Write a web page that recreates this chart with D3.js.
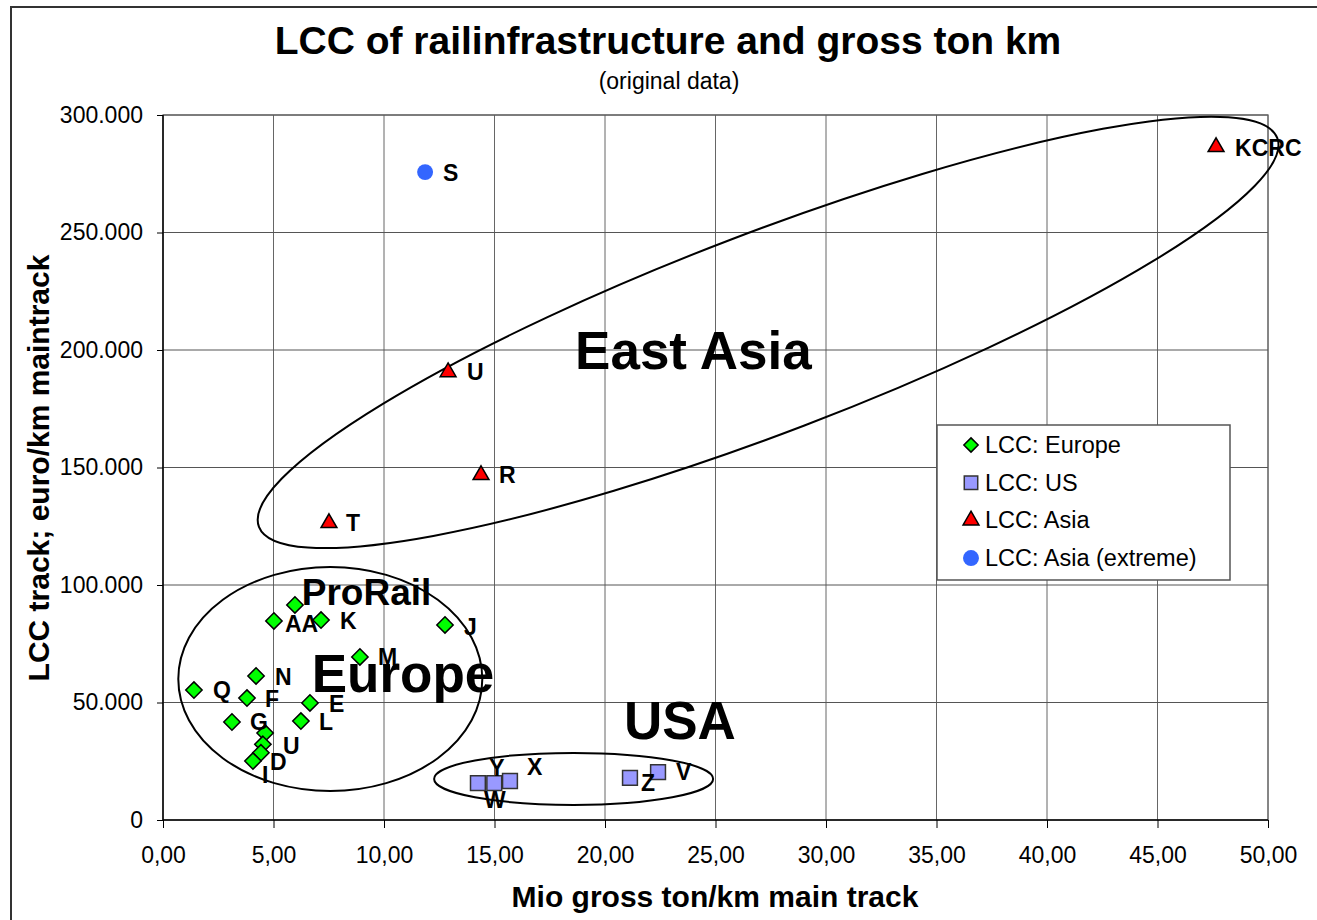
<!DOCTYPE html>
<html>
<head>
<meta charset="utf-8">
<script src="https://cdn.jsdelivr.net/npm/d3@7"></script>
<style>
  html, body { margin: 0; padding: 0; background: #fff; }
  svg text { font-family: "Liberation Sans", Arial, sans-serif; }
</style>
</head>
<body>
<svg id="chart" width="1317" height="920"></svg>
<script>
// ---- data ----
const europeX = [1.40, 4.21, 3.80, 3.12, 5.02, 5.97, 7.15, 12.76, 8.91, 6.65, 6.24, 4.62, 4.52, 4.43, 4.07];
const europeY = [55300, 61300, 51900, 41700, 84700, 91500, 85100, 83000, 69400, 49800, 42100, 37000, 32200, 28600, 25100];
const europeLabels = ["Q", "N", "F", "G", "AA", "", "K", "J", "M", "E", "L", "", "U", "D", "I"];

const usX = [14.25, 14.99, 15.70, 21.13, 22.40];
const usY = [15700, 15700, 16600, 17900, 20400];
const usLabels = ["W", "Y", "X", "Z", "V"];

const asiaX = [12.90, 14.39, 7.51, 47.65];
const asiaY = [190600, 146800, 126400, 286400];
const asiaLabels = ["U", "R", "T", "KCRC"];

const asiaExtX = [11.86];
const asiaExtY = [275700];
const asiaExtLabels = ["S"];

const xTicks = [0, 5, 10, 15, 20, 25, 30, 35, 40, 45, 50];
const yTicks = [0, 50000, 100000, 150000, 200000, 250000, 300000];

const seriesNames = ["LCC: Europe", "LCC: US", "LCC: Asia", "LCC: Asia (extreme)"];
const groupNames = ["East Asia", "Europe", "USA", "ProRail"];

// label offsets (pixels) per point, [dx, dy]
const europeOff = [[19,0],[19,1],[18,1],[18,0],[11,3],[0,0],[19,1],[19,2],[18,0],[19,1],[18,1],[0,0],[20,2],[9,9],[9,14]];
const usOff = [[6,17],[-5,-15],[17,-14],[11,5],[18,0]];
const asiaOff = [[19,0],[18,0],[17,0],[19,1]];
const asiaExtOff = [[18,1]];

// ---- setup ----
const svg = d3.select("#chart");
const W = 1317, H = 920;
const m = {left: 163, right: 1268, top: 115, bottom: 820};

const x = d3.scaleLinear().domain([0, 50]).range([m.left, m.right]);
const y = d3.scaleLinear().domain([0, 300000]).range([m.bottom, m.top]);

const loc = d3.formatLocale({decimal: ",", thousands: ".", grouping: [3], currency: ["", "€"]});
const fx = loc.format(".2f");
const fy = v => v === 0 ? "0" : loc.format(",.0f")(v);

// outer border
svg.append("rect").attr("x", 11).attr("y", 7).attr("width", W + 20).attr("height", H + 20)
  .attr("fill", "#fff").attr("stroke", "#333").attr("stroke-width", 2);

// plot area border
svg.append("rect").attr("x", m.left).attr("y", m.top).attr("width", m.right - m.left).attr("height", m.bottom - m.top)
  .attr("fill", "#fff").attr("stroke", "#888").attr("stroke-width", 1.5);

// gridlines
svg.append("g").selectAll("line").data(xTicks.slice(1)).join("line")
  .attr("x1", d => x(d)).attr("x2", d => x(d)).attr("y1", m.top).attr("y2", m.bottom)
  .attr("stroke", "#666").attr("stroke-width", 1);
svg.append("g").selectAll("line").data(yTicks.slice(1)).join("line")
  .attr("x1", m.left).attr("x2", m.right).attr("y1", d => y(d)).attr("y2", d => y(d))
  .attr("stroke", "#555").attr("stroke-width", 1);

// axes
const xAxis = d3.axisBottom(x).tickValues(xTicks).tickFormat(fx).tickSize(8).tickPadding(19);
const gx = svg.append("g").attr("transform", `translate(0,${m.bottom})`).call(xAxis);
gx.select(".domain").attr("stroke", "#000").attr("stroke-width", 1.5).attr("d", `M${m.left},0H${m.right}`);
gx.selectAll(".tick line").attr("stroke", "#000");
gx.selectAll(".tick text").attr("font-size", 23).attr("fill", "#000")
  .attr("font-family", "'Liberation Sans', Arial, sans-serif");

const yAxis = d3.axisLeft(y).tickValues(yTicks).tickFormat(fy).tickSize(6).tickPadding(14);
const gy = svg.append("g").attr("transform", `translate(${m.left},0)`).call(yAxis);
gy.select(".domain").attr("stroke", "#000").attr("stroke-width", 1.5).attr("d", `M0,${m.top}V${m.bottom}`);
gy.selectAll(".tick line").attr("stroke", "#000");
gy.selectAll(".tick text").attr("font-size", 23).attr("fill", "#000")
  .attr("font-family", "'Liberation Sans', Arial, sans-serif");

// ---- ellipses (annotation) ----
function ell(cx, cy, rx, ry, angle) {
  svg.append("ellipse")
    .attr("cx", 0).attr("cy", 0).attr("rx", rx).attr("ry", ry)
    .attr("transform", `translate(${x(cx)},${y(cy)}) rotate(${angle})`)
    .attr("fill", "none").attr("stroke", "#000").attr("stroke-width", 2);
}
ell(27.38, 207500, 545, 100, -20.9);
ell(7.57, 60000, 152, 112, 0);
ell(18.58, 17500, 139.5, 26, 0);

// ---- group annotation texts ----
const groupPos = [[24.0, 200000, 53], [10.86, 62500, 53], [23.39, 42500, 53], [9.21, 97000, 37]];
groupNames.forEach((g, i) => {
  svg.append("text").attr("x", x(groupPos[i][0])).attr("y", y(groupPos[i][1]))
    .attr("text-anchor", "middle").attr("dominant-baseline", "central")
    .attr("font-size", groupPos[i][2]).attr("font-weight", "bold").text(g);
});

// ---- markers ----
const sym = {
  diamond: d3.symbol().type(d3.symbolDiamond2).size(170),
  square: d3.symbol().type(d3.symbolSquare2).size(280),
  triangle: d3.symbol().type(d3.symbolTriangle2).size(180),
  circle: d3.symbol().type(d3.symbolCircle).size(200)
};

function series(xs, ys, labels, offs, shape, fill, stroke) {
  const g = svg.append("g");
  const d = xs.map((v, i) => ({x: v, y: ys[i], l: labels[i], o: offs[i]}));
  g.selectAll("path").data(d).join("path")
    .attr("transform", p => `translate(${x(p.x)},${y(p.y)})`)
    .attr("d", sym[shape]).attr("fill", fill).attr("stroke", stroke).attr("stroke-width", 1.5);
  g.selectAll("text").data(d).join("text")
    .attr("x", p => x(p.x) + p.o[0]).attr("y", p => y(p.y) + p.o[1])
    .attr("dominant-baseline", "central")
    .attr("font-size", 23).attr("font-weight", "bold").text(p => p.l);
}
series(europeX, europeY, europeLabels, europeOff, "diamond", "#00FF00", "#000");
series(usX, usY, usLabels, usOff, "square", "#9999FF", "#333");
series(asiaX, asiaY, asiaLabels, asiaOff, "triangle", "#FF0000", "#000");
series(asiaExtX, asiaExtY, asiaExtLabels, asiaExtOff, "circle", "#3366FF", "none");

// ---- legend ----
const lg = svg.append("g").attr("transform", "translate(937,425)");
lg.append("rect").attr("width", 293).attr("height", 155).attr("fill", "#fff").attr("stroke", "#555").attr("stroke-width", 1.5);
const legShapes = [["diamond", "#00FF00", "#000"], ["square", "#9999FF", "#333"], ["triangle", "#FF0000", "#000"], ["circle", "#3366FF", "none"]];
const legSym = {
  diamond: d3.symbol().type(d3.symbolDiamond2).size(130),
  square: d3.symbol().type(d3.symbolSquare2).size(230),
  triangle: d3.symbol().type(d3.symbolTriangle2).size(180),
  circle: d3.symbol().type(d3.symbolCircle).size(200)
};
seriesNames.forEach((n, i) => {
  const cy = 20 + i * 37.7;
  const s = legShapes[i];
  lg.append("path").attr("transform", `translate(34,${cy})`)
    .attr("d", legSym[s[0]])
    .attr("fill", s[1]).attr("stroke", s[2]).attr("stroke-width", 1.5);
  lg.append("text").attr("x", 48).attr("y", cy).attr("dominant-baseline", "central")
    .attr("font-size", 23.5).text(n);
});

// ---- titles ----
svg.append("text").attr("x", 668).attr("y", 40).attr("text-anchor", "middle").attr("dominant-baseline", "central")
  .attr("font-size", 39).attr("font-weight", "bold").text("LCC of railinfrastructure and gross ton km");
svg.append("text").attr("x", 669).attr("y", 81).attr("text-anchor", "middle").attr("dominant-baseline", "central")
  .attr("font-size", 23).text("(original data)");
svg.append("text").attr("x", 715).attr("y", 896).attr("text-anchor", "middle").attr("dominant-baseline", "central")
  .attr("font-size", 30).attr("font-weight", "bold").text("Mio gross ton/km main track");
svg.append("text").attr("transform", "translate(38,468) rotate(-90)").attr("text-anchor", "middle").attr("dominant-baseline", "central")
  .attr("font-size", 30).attr("font-weight", "bold").text("LCC track; euro/km maintrack");
</script>
</body>
</html>
